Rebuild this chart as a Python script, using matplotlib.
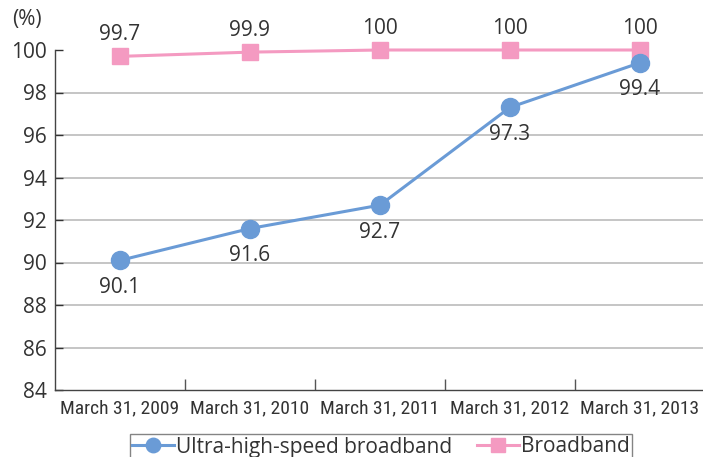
import matplotlib.pyplot as plt
import numpy as np
from matplotlib import font_manager

# broadband coverage by year (%)
dates = ["March 31, 2009", "March 31, 2010", "March 31, 2011",
         "March 31, 2012", "March 31, 2013"]
ultra = [90.1, 91.6, 92.7, 97.3, 99.4]
broad = [99.7, 99.9, 100, 100, 100]
ultra_labels = ["90.1", "91.6", "92.7", "97.3", "99.4"]
broad_labels = ["99.7", "99.9", "100", "100", "100"]

blue = "#6a9bd6"
pink = "#f49ac1"
txt = "#333333"

plt.rcParams['font.family'] = ['Open Sans', 'DejaVu Sans']

# narrow face for the date labels, if one is around
names = {f.name for f in font_manager.fontManager.ttflist}
narrow = [n for n in ['Roboto Condensed', 'Open Sans Condensed'] if n in names]

fig = plt.figure(figsize=(7.03, 4.57), dpi=100)
ax = fig.add_axes([55 / 703, 1 - 390 / 457, 650 / 703, 340 / 457])

x = np.arange(len(dates))
ax.plot(x, ultra, color=blue, lw=2.2, marker='o', ms=13,
        label="Ultra-high-speed broadband", zorder=4, clip_on=False)
ax.plot(x, broad, color=pink, lw=2.2, marker='s', ms=12,
        label="Broadband", zorder=3, clip_on=False)

for xi, v, s in zip(x, ultra, ultra_labels):
    ax.annotate(s, (xi, v), xytext=(0, -12), textcoords='offset points',
                ha='center', va='top', fontsize=15, color=txt)
for xi, v, s in zip(x, broad, broad_labels):
    ax.annotate(s, (xi, v), xytext=(0, 8), textcoords='offset points',
                ha='center', va='bottom', fontsize=15, color=txt)

ax.set_xlim(-0.5, 4.5)
ax.set_ylim(84, 100)
ax.set_yticks(np.arange(84, 101, 2))
ax.tick_params(axis='y', labelsize=15, colors=txt, direction='in', length=6,
               width=1, pad=6)
for yv in range(86, 100, 2):
    ax.axhline(yv, color='#bbbbbb', lw=1.2, zorder=1)

# category labels centred, ticks on boundaries
ax.set_xticks(x)
if narrow:
    ax.set_xticklabels(dates, fontsize=14, color=txt,
                       fontfamily=narrow + ['DejaVu Sans'])
else:
    ax.set_xticklabels(dates, fontsize=12.5, color=txt,
                       fontfamily='DejaVu Sans', fontstretch='condensed')
ax.tick_params(axis='x', length=0, pad=7)
ax.set_xticks(np.arange(0.5, 4, 1), minor=True)
ax.tick_params(axis='x', which='minor', direction='in', length=8, width=1, color='#555555')

for side in ['top', 'right']:
    ax.spines[side].set_visible(False)
for side in ['left', 'bottom']:
    ax.spines[side].set_color('#444444')
    ax.spines[side].set_linewidth(1)

fig.text(12 / 703, 1 - 20 / 457, "(%)", fontsize=15, color=txt, va='center')

leg = ax.legend(loc='upper center', bbox_to_anchor=(381 / 703, 1 - 424 / 457),
                bbox_transform=fig.transFigure, ncol=2, fontsize=15,
                frameon=True, fancybox=False, edgecolor='#666666',
                handlelength=2.0, handletextpad=0.1, columnspacing=1.2,
                borderpad=0.1, labelcolor=txt, markerscale=0.8)
leg.get_frame().set_linewidth(1)

fig.savefig("out.png", dpi=100)
